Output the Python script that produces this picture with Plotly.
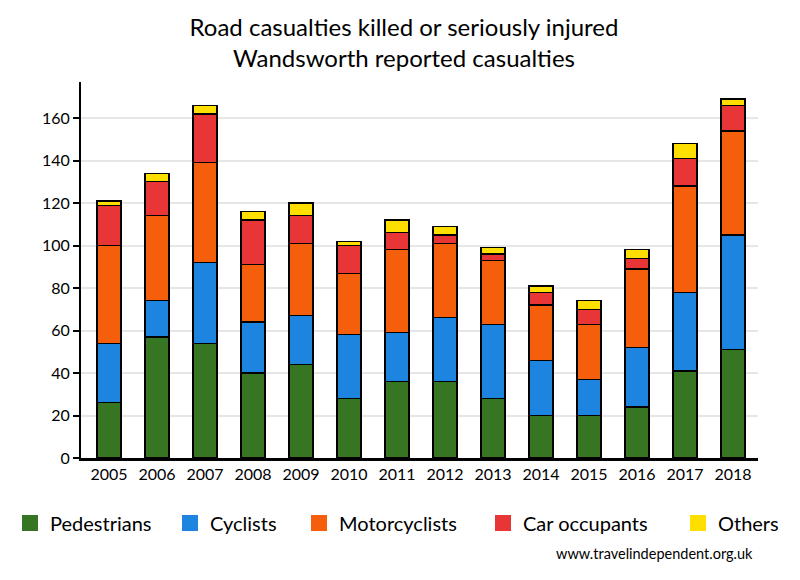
import plotly.graph_objects as go

years = ["2005", "2006", "2007", "2008", "2009", "2010", "2011",
         "2012", "2013", "2014", "2015", "2016", "2017", "2018"]
pedestrians = [26, 57, 54, 40, 44, 28, 36, 36, 28, 20, 20, 24, 41, 51]
cyclists = [28, 17, 38, 24, 23, 30, 23, 30, 35, 26, 17, 28, 37, 54]
motorcyclists = [46, 40, 47, 27, 34, 29, 39, 35, 30, 26, 26, 37, 50, 49]
car_occupants = [19, 16, 23, 21, 13, 13, 8, 4, 3, 6, 7, 5, 13, 12]
others = [2, 4, 4, 4, 6, 2, 6, 4, 3, 3, 4, 4, 7, 3]

series = [
    ("Pedestrians", pedestrians, "#367522"),
    ("Cyclists", cyclists, "#1d84e0"),
    ("Motorcyclists", motorcyclists, "#f55f0b"),
    ("Car occupants", car_occupants, "#e83535"),
    ("Others", others, "#ffdf00"),
]

FONT = "Lato, 'Open Sans', sans-serif"
W, H = 792, 572
legend_ids = ["legend", "legend2", "legend3", "legend4", "legend5"]
legend_left_px = [2, 162, 291, 475, 670]

fig = go.Figure()
for (name, vals, col), lid in zip(series, legend_ids):
    fig.add_trace(go.Bar(
        x=years, y=vals, name=name, legendgroup=name, showlegend=False,
        marker=dict(color=col, line=dict(color="black", width=1.3)),
    ))
for (name, vals, col), lid in zip(series, legend_ids):
    fig.add_trace(go.Scatter(
        x=[None], y=[None], mode="markers", name=name, legendgroup=name,
        legend=lid, showlegend=True, hoverinfo="skip",
        marker=dict(symbol="square", size=16, color=col, line=dict(width=0)),
    ))

legends = {}
for lid, lx in zip(legend_ids, legend_left_px):
    legends[lid] = dict(
        orientation="h", xref="container", yref="container",
        x=lx / W, xanchor="left", y=1 - 515 / H, yanchor="middle",
        font=dict(size=20, family=FONT, color="black"),
        itemwidth=30, bgcolor="rgba(0,0,0,0)", borderwidth=0,
    )

fig.update_layout(
    width=W, height=H,
    barmode="stack", bargap=0.5,
    plot_bgcolor="white", paper_bgcolor="white",
    margin=dict(l=73, r=42, t=74, b=122, autoexpand=False),
    font=dict(family=FONT, color="black", size=16),
    title=dict(
        text="Road casualties killed or seriously injured<br>Wandsworth reported casualties",
        x=0.5, xanchor="center", xref="container",
        y=1 - 28 / H, yanchor="middle", yref="container",
        font=dict(size=24, family=FONT, color="black"),
    ),
    xaxis=dict(
        type="category", range=[-0.583, 13.52],
        showline=True, linecolor="black", linewidth=2.5,
        ticks="", showgrid=False,
        tickfont=dict(size=16),
    ),
    yaxis=dict(
        range=[0, 177], dtick=20,
        showline=True, linecolor="black", linewidth=2,
        ticks="outside", ticklen=6, tickwidth=1.5, tickcolor="black",
        showgrid=True, gridcolor="#e6e6e6", gridwidth=2,
        zeroline=False, tickfont=dict(size=16),
    ),
    annotations=[dict(
        text="www.travelindependent.org.uk", xref="paper", yref="paper",
        x=0.9956, y=-0.2527, xanchor="right", yanchor="middle",
        showarrow=False, font=dict(size=14.5, family=FONT),
    )],
    **legends,
)

fig.write_html("out.html")
